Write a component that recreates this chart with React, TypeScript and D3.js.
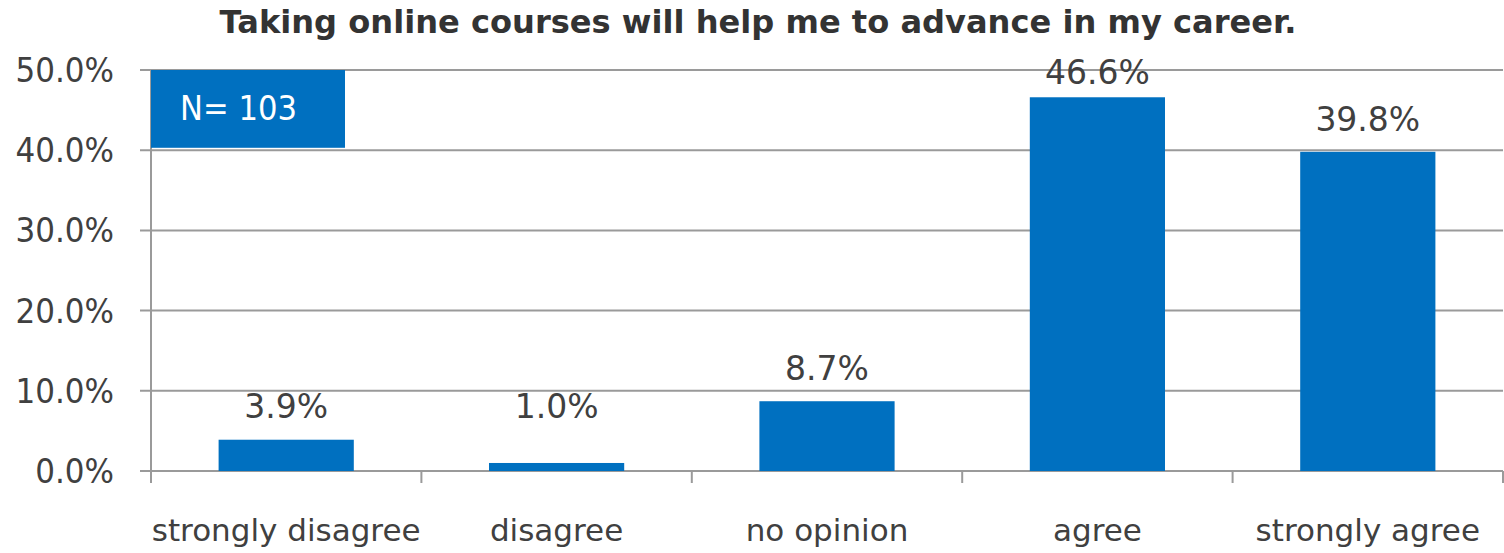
// @ts-nocheck
import React from 'react'
import * as d3 from 'd3'

const title = 'Taking online courses will help me to advance in my career.'
const categories = ['strongly disagree', 'disagree', 'no opinion', 'agree', 'strongly agree']
const values = [3.9, 1.0, 8.7, 46.6, 39.8]
const yTicks = [0, 10, 20, 30, 40, 50]
const sampleLabel = 'N= 103'

const W = 1504
const H = 553
const margin = { top: 70, right: 1, bottom: 82, left: 151 }
const blue = '#0070C0'
const grid = '#9a9a9a'
const textColor = '#404040'
const font = 'Tahoma, "DejaVu Sans", Verdana, sans-serif'

// narrow text, Tahoma is tighter than DejaVu
const NarrowText = ({ x, y, anchor = 'middle', size = 33, sx = 0.94, fill = textColor, children }) => (
  <text
    transform={`translate(${x}, ${y}) scale(${sx}, 1)`}
    textAnchor={anchor}
    fontFamily={font}
    fontSize={size}
    fill={fill}
  >
    {children}
  </text>
)

const App = () => {
  const x = d3
    .scaleBand()
    .domain(categories)
    .range([margin.left, W - margin.right])
    .paddingInner(0.5)
    .paddingOuter(0.25)

  const y = d3
    .scaleLinear()
    .domain([0, 50])
    .range([H - margin.bottom, margin.top])

  const fmt = d3.format('.1f')
  const bandStep = x.step()
  const edges = d3.range(categories.length + 1).map((i) => margin.left + i * bandStep)

  const labelY = (v) => Math.max(Math.min(y(v), y(4)) - 21, y(50) + 14)

  return (
    <svg width={W} height={H} style={{ position: 'absolute', left: 0, top: 0, background: '#fff' }}>
      <text
        x={758}
        y={33}
        textAnchor="middle"
        fontFamily={font}
        fontWeight="bold"
        fontSize={32}
        fill="#333"
        textLength={1077}
        lengthAdjust="spacingAndGlyphs"
      >
        {title}
      </text>

      {yTicks.map((t) => (
        <g key={t}>
          <line x1={margin.left - 11} x2={W - margin.right} y1={y(t)} y2={y(t)} stroke={grid} strokeWidth={2} />
          <NarrowText x={114} y={y(t) + 12} anchor="end">
            {fmt(t)}%
          </NarrowText>
        </g>
      ))}

      <line x1={margin.left} x2={margin.left} y1={y(50)} y2={y(0) + 12} stroke={grid} strokeWidth={2} />
      {edges.map((e, i) => (
        <line key={i} x1={e} x2={e} y1={y(0)} y2={y(0) + 12} stroke={grid} strokeWidth={2} />
      ))}

      <rect x={margin.left} y={y(50)} width={194} height={y(40.3) - y(50)} fill={blue} />
      <NarrowText x={180} y={120} anchor="start" sx={0.93} fill="#fff">
        {sampleLabel}
      </NarrowText>

      {categories.map((c, i) => (
        <g key={c}>
          <rect
            x={x(c)}
            y={y(values[i])}
            width={x.bandwidth()}
            height={y(0) - y(values[i])}
            fill={blue}
          />
          <NarrowText x={x(c) + x.bandwidth() / 2} y={labelY(values[i])} sx={1}>
            {fmt(values[i])}%
          </NarrowText>
          <text
            x={x(c) + x.bandwidth() / 2}
            y={541}
            textAnchor="middle"
            fontFamily={font}
            fontSize={31}
            fill={textColor}
          >
            {c}
          </text>
        </g>
      ))}
    </svg>
  )
}

export default App
